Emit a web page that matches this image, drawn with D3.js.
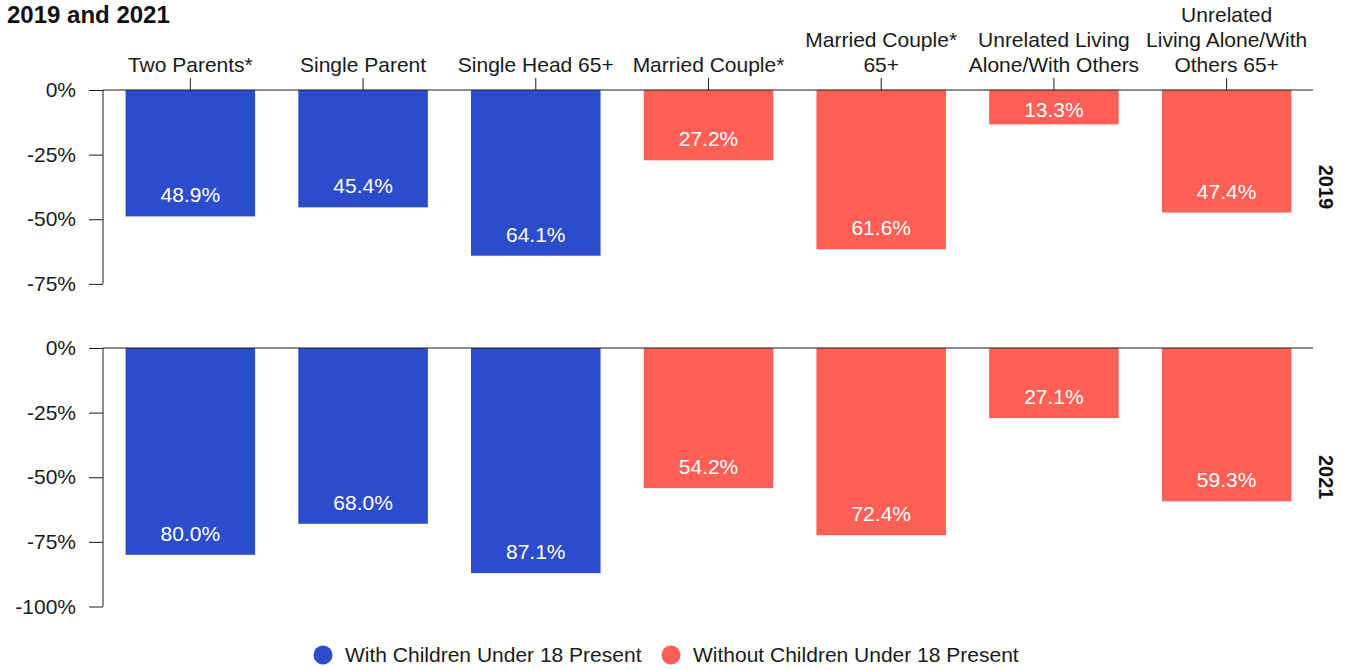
<!DOCTYPE html>
<html>
<head>
<meta charset="utf-8">
<script src="https://cdn.jsdelivr.net/npm/d3@7"></script>
<style>
  html, body { margin: 0; padding: 0; background: #fff; }
  svg { display: block; font-family: "Liberation Sans", Arial, Helvetica, sans-serif; }
</style>
</head>
<body>
<svg id="chart" width="1356" height="670"></svg>
<script>
const categories = [
  "Two Parents*",
  "Single Parent",
  "Single Head 65+",
  "Married Couple*",
  "Married Couple* 65+",
  "Unrelated Living Alone/With Others",
  "Unrelated Living Alone/With Others 65+"
];
const categoryLines = [
  ["Two Parents*"],
  ["Single Parent"],
  ["Single Head 65+"],
  ["Married Couple*"],
  ["Married Couple*", "65+"],
  ["Unrelated Living", "Alone/With Others"],
  ["Unrelated", "Living Alone/With", "Others 65+"]
];
const groups = ["with", "with", "with", "without", "without", "without", "without"];
const years = ["2019", "2021"];
const values2019 = [48.9, 45.4, 64.1, 27.2, 61.6, 13.3, 47.4];
const values2021 = [80.0, 68.0, 87.1, 54.2, 72.4, 27.1, 59.3];
const yTicks2019 = [0, -25, -50, -75];
const yTicks2021 = [0, -25, -50, -75, -100];
const legendLabels = ["With Children Under 18 Present", "Without Children Under 18 Present"];
const titleText = "2019 and 2021";

const colors = { with: "#2b4ccb", without: "#ff5f55" };
const FONT = 21;

const svg = d3.select("#chart");

// title
svg.append("text")
  .attr("x", 7).attr("y", 23)
  .attr("font-size", 24).attr("font-weight", "bold").attr("fill", "#111")
  .text(titleText);

const x = d3.scaleBand()
  .domain(categories)
  .range([104, 1313])
  .paddingInner(0.25)
  .paddingOuter(0.125);

const panels = [
  { year: "2019", values: values2019, ticks: yTicks2019, y0: 90, min: -75 },
  { year: "2021", values: values2021, ticks: yTicks2021, y0: 348, min: -100 }
];
const pxPerPct = 2.585;

panels.forEach((p, pi) => {
  const y = d3.scaleLinear().domain([0, p.min]).range([p.y0, p.y0 + (-p.min) * pxPerPct]);
  const g = svg.append("g");

  const data = categories.map((c, i) => ({ c, v: p.values[i], grp: groups[i] }));
  g.selectAll("rect.bar").data(data).join("rect")
    .attr("class", "bar")
    .attr("x", d => x(d.c))
    .attr("width", x.bandwidth())
    .attr("y", y(0))
    .attr("height", d => y(-d.v) - y(0))
    .attr("fill", d => colors[d.grp]);

  g.selectAll("text.val").data(data).join("text")
    .attr("class", "val")
    .attr("x", d => x(d.c) + x.bandwidth() / 2)
    .attr("y", d => Math.max(y(-d.v) - 14, y(0) + 27))
    .attr("text-anchor", "middle")
    .attr("font-size", FONT)
    .attr("fill", "#fff")
    .text(d => d.v.toFixed(1) + "%");

  const yAxis = d3.axisLeft(y)
    .tickValues(p.ticks)
    .tickFormat(d => d + "%")
    .tickSize(14)
    .tickPadding(13);
  const ya = svg.append("g").attr("transform", "translate(103,0)").call(yAxis);
  ya.selectAll("text").attr("font-size", FONT).attr("fill", "#1a1a1a").attr("font-family", null);
  ya.selectAll("line, path").attr("stroke", "#1a1a1a");
  ya.select(".domain").attr("d", `M0,${y(0)}V${y(p.min)}`);

  const xAxis = d3.axisTop(x).tickSize(pi === 0 ? 12 : 0).tickSizeOuter(0).tickFormat("");
  const xa = svg.append("g").attr("transform", `translate(0,${y(0)})`).call(xAxis);
  xa.selectAll("line, path").attr("stroke", "#1a1a1a");
  xa.select(".domain").attr("d", `M103,0H1313`);

  if (pi === 0) {
    categories.forEach((c, i) => {
      const lines = categoryLines[i];
      const t = svg.append("text")
        .attr("text-anchor", "middle")
        .attr("font-size", FONT)
        .attr("fill", "#1a1a1a");
      lines.forEach((ln, li) => {
        t.append("tspan")
          .attr("x", x(c) + x.bandwidth() / 2)
          .attr("y", 72 - (lines.length - 1 - li) * 25)
          .text(ln);
      });
    });
  }

  const cy = (y(0) + y(p.min)) / 2;
  svg.append("text")
    .attr("transform", `translate(1326,${cy}) rotate(90)`)
    .attr("text-anchor", "middle")
    .attr("dy", "0.35em")
    .attr("font-size", 20)
    .attr("font-weight", "bold")
    .attr("fill", "#111")
    .text(p.year);
});

const legend = svg.append("g");
const legendX = [323, 671];
legendLabels.forEach((lab, i) => {
  legend.append("circle")
    .attr("cx", legendX[i]).attr("cy", 655).attr("r", 9.5)
    .attr("fill", i === 0 ? colors.with : colors.without);
  legend.append("text")
    .attr("x", legendX[i] + 22).attr("y", 662)
    .attr("font-size", FONT)
    .attr("fill", "#1a1a1a")
    .text(lab);
});
</script>
</body>
</html>
